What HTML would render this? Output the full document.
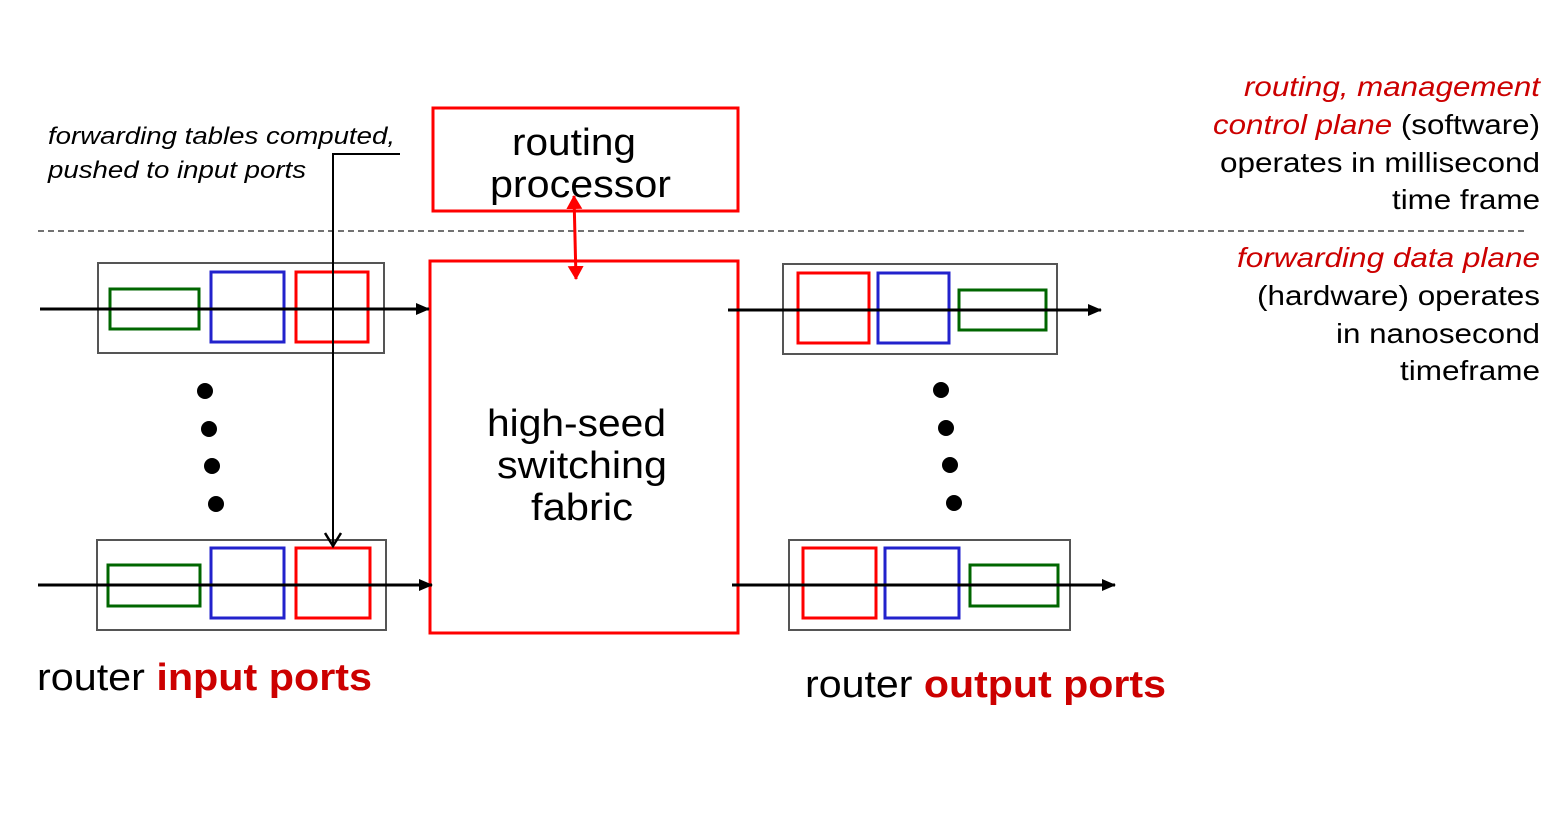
<!DOCTYPE html>
<html><head><style>body{margin:0;background:#fff}svg{display:block}text{font-family:"Liberation Sans",sans-serif}</style></head><body>
<svg width="1566" height="824" viewBox="0 0 1566 824" xmlns="http://www.w3.org/2000/svg">
<defs>
<marker id="ab" markerWidth="14" markerHeight="12" refX="13" refY="6" orient="auto" markerUnits="userSpaceOnUse"><path d="M0,0 L14,6 L0,12 Z" fill="#000"/></marker>
<marker id="ar" markerWidth="14" markerHeight="16" refX="13" refY="8" orient="auto-start-reverse" markerUnits="userSpaceOnUse"><path d="M0,0 L14,8 L0,16 Z" fill="#f00"/></marker>
</defs>
<line x1="38" y1="231" x2="1525" y2="231" stroke="#444" stroke-width="1.5" stroke-dasharray="6,4"/>
<rect x="433" y="108" width="305" height="103" fill="none" stroke="#f00" stroke-width="3"/>
<text x="512" y="155" font-size="38" textLength="124" lengthAdjust="spacingAndGlyphs">routing</text>
<text x="490" y="197" font-size="38" textLength="181" lengthAdjust="spacingAndGlyphs">processor</text>
<rect x="430" y="261" width="308" height="372" fill="none" stroke="#f00" stroke-width="3"/>
<text x="487" y="436" font-size="38" textLength="179" lengthAdjust="spacingAndGlyphs">high-seed</text>
<text x="497" y="478" font-size="38" textLength="170" lengthAdjust="spacingAndGlyphs">switching</text>
<text x="531" y="520" font-size="38" textLength="102" lengthAdjust="spacingAndGlyphs">fabric</text>
<line x1="574" y1="196" x2="576" y2="279" stroke="#f00" stroke-width="3" marker-start="url(#ar)" marker-end="url(#ar)"/>
<rect x="98" y="263" width="286" height="90" fill="none" stroke="#555" stroke-width="2"/>
<rect x="110" y="289" width="89" height="40" fill="none" stroke="#060" stroke-width="3"/>
<rect x="211" y="272" width="73" height="70" fill="none" stroke="#22c" stroke-width="3"/>
<rect x="296" y="272" width="72" height="70" fill="none" stroke="#f00" stroke-width="3"/>
<line x1="40" y1="309" x2="429" y2="309" stroke="#000" stroke-width="3" marker-end="url(#ab)"/>
<rect x="97" y="540" width="289" height="90" fill="none" stroke="#555" stroke-width="2"/>
<rect x="108" y="565" width="92" height="41" fill="none" stroke="#060" stroke-width="3"/>
<rect x="211" y="548" width="73" height="70" fill="none" stroke="#22c" stroke-width="3"/>
<rect x="296" y="548" width="74" height="70" fill="none" stroke="#f00" stroke-width="3"/>
<line x1="38" y1="585" x2="432" y2="585" stroke="#000" stroke-width="3" marker-end="url(#ab)"/>
<polyline points="400,154 333,154 333,544" fill="none" stroke="#000" stroke-width="2"/>
<path d="M325,533 L333,546 L341,533" fill="none" stroke="#000" stroke-width="2.5"/>
<text x="48" y="144" font-size="24" font-style="italic" textLength="347" lengthAdjust="spacingAndGlyphs">forwarding tables computed,</text>
<text x="48" y="178" font-size="24" font-style="italic" textLength="258" lengthAdjust="spacingAndGlyphs">pushed to input ports</text>
<rect x="783" y="264" width="274" height="90" fill="none" stroke="#555" stroke-width="2"/>
<rect x="798" y="273" width="71" height="70" fill="none" stroke="#f00" stroke-width="3"/>
<rect x="878" y="273" width="71" height="70" fill="none" stroke="#22c" stroke-width="3"/>
<rect x="959" y="290" width="87" height="40" fill="none" stroke="#060" stroke-width="3"/>
<line x1="728" y1="310" x2="1101" y2="310" stroke="#000" stroke-width="3" marker-end="url(#ab)"/>
<rect x="789" y="540" width="281" height="90" fill="none" stroke="#555" stroke-width="2"/>
<rect x="803" y="548" width="73" height="70" fill="none" stroke="#f00" stroke-width="3"/>
<rect x="885" y="548" width="74" height="70" fill="none" stroke="#22c" stroke-width="3"/>
<rect x="970" y="565" width="88" height="41" fill="none" stroke="#060" stroke-width="3"/>
<line x1="732" y1="585" x2="1115" y2="585" stroke="#000" stroke-width="3" marker-end="url(#ab)"/>
<g fill="#000">
<circle cx="205" cy="391" r="8"/><circle cx="209" cy="429" r="8"/><circle cx="212" cy="466" r="8"/><circle cx="216" cy="504" r="8"/>
<circle cx="941" cy="390" r="8"/><circle cx="946" cy="428" r="8"/><circle cx="950" cy="465" r="8"/><circle cx="954" cy="503" r="8"/>
</g>
<text x="37" y="690" font-size="38" textLength="335" lengthAdjust="spacingAndGlyphs">router <tspan fill="#c00" font-weight="bold">input ports</tspan></text>
<text x="805" y="697" font-size="38" textLength="361" lengthAdjust="spacingAndGlyphs">router <tspan fill="#c00" font-weight="bold">output ports</tspan></text>
<g font-size="28">
<text x="1244" y="96" fill="#c00" font-style="italic" textLength="296" lengthAdjust="spacingAndGlyphs">routing, management</text>
<text x="1213" y="134" textLength="327" lengthAdjust="spacingAndGlyphs"><tspan fill="#c00" font-style="italic">control plane</tspan> (software)</text>
<text x="1220" y="172" textLength="320" lengthAdjust="spacingAndGlyphs">operates in millisecond</text>
<text x="1392" y="209" textLength="148" lengthAdjust="spacingAndGlyphs">time frame</text>
<text x="1237" y="267" fill="#c00" font-style="italic" textLength="303" lengthAdjust="spacingAndGlyphs">forwarding data plane</text>
<text x="1257" y="305" textLength="283" lengthAdjust="spacingAndGlyphs">(hardware) operates</text>
<text x="1336" y="343" textLength="204" lengthAdjust="spacingAndGlyphs">in nanosecond</text>
<text x="1400" y="380" textLength="140" lengthAdjust="spacingAndGlyphs">timeframe</text>
</g>
</svg>
</body></html>
